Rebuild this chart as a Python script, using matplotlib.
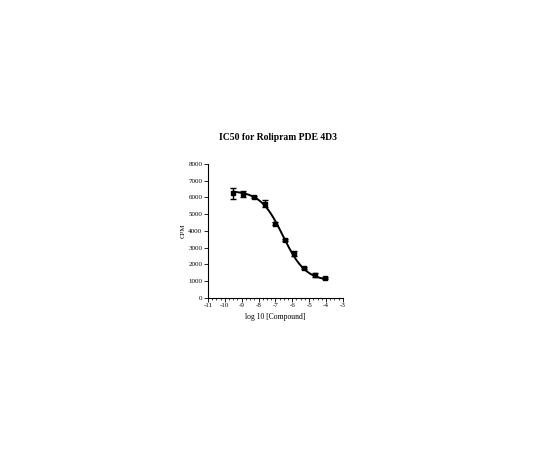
import numpy as np
import matplotlib
matplotlib.use("Agg")
import matplotlib.pyplot as plt
from matplotlib.ticker import MultipleLocator

# data
log_conc = [-9.5, -8.9, -8.25, -7.6, -7.0, -6.45, -5.9, -5.3, -4.65, -4.05]
cpm = [6250, 6200, 6030, 5620, 4430, 3480, 2620, 1770, 1360, 1180]
cpm_err = [330, 170, 60, 220, 110, 60, 150, 60, 120, 50]

# fitted 4-parameter logistic
fit_top = 6400
fit_bottom = 1000
fit_logic50 = -6.55
fit_hill = 0.65

x_ticks = [-11, -10, -9, -8, -7, -6, -5, -4, -3]
y_ticks = [0, 1000, 2000, 3000, 4000, 5000, 6000, 7000, 8000]

plt.rcParams['font.family'] = ['Liberation Serif', 'DejaVu Serif']
plt.rcParams['axes.unicode_minus'] = False

fig = plt.figure(figsize=(5.4, 4.5), dpi=100)
ax = fig.add_axes([0.385, 0.338, 0.25, 0.298])

xf = np.linspace(min(log_conc), max(log_conc), 200)
yf = fit_bottom + (fit_top - fit_bottom) / (1 + 10 ** ((xf - fit_logic50) * fit_hill))
ax.plot(xf, yf, color='black', lw=1.4)
ax.errorbar(log_conc, cpm, yerr=cpm_err, fmt='s', color='black', ms=3,
            capsize=2, elinewidth=1, capthick=1)

ax.set_xlim(-11, -3)
ax.set_ylim(0, 8000)
ax.set_xticks(x_ticks)
ax.set_yticks(y_ticks)
ax.xaxis.set_minor_locator(MultipleLocator(0.25))
ax.spines['top'].set_visible(False)
ax.spines['right'].set_visible(False)
for s in ['left', 'bottom']:
    ax.spines[s].set_linewidth(0.8)
ax.tick_params(axis='both', which='major', labelsize=5, length=3, width=0.6, pad=1)
ax.tick_params(axis='x', which='minor', length=1.5, width=0.5)
ax.set_xlabel('log 10 [Compound]', fontsize=5.5, labelpad=3)
ax.set_ylabel('CPM', fontsize=5, labelpad=2)
ax.set_title('IC50 for Rolipram PDE 4D3', fontsize=6.9, fontweight='bold',
             pad=17, x=0.52)

fig.savefig('out.png', dpi=100)
